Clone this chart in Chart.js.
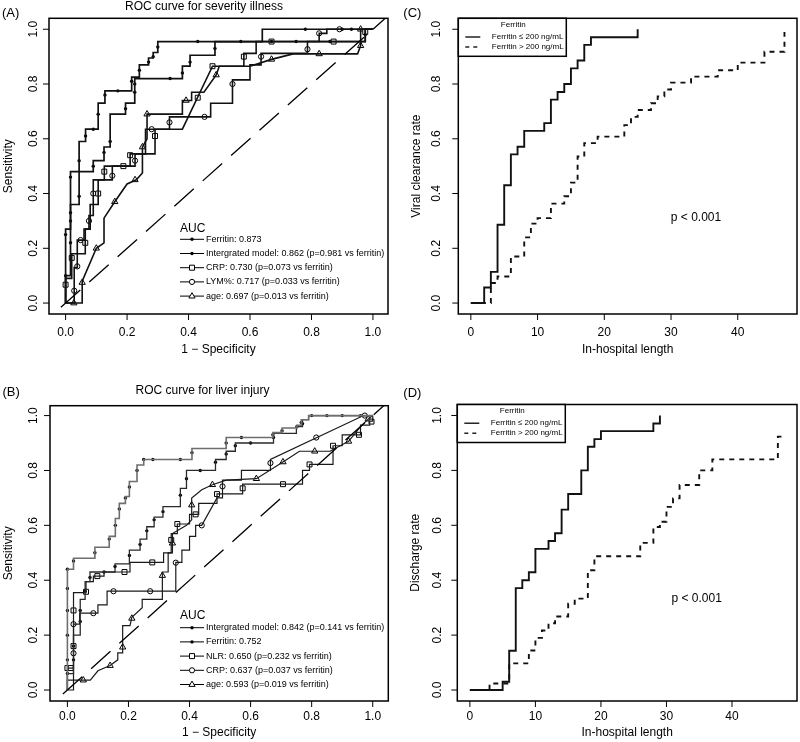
<!DOCTYPE html>
<html>
<head>
<meta charset="utf-8">
<script src="https://cdn.jsdelivr.net/npm/chart.js@4.4.1/dist/chart.umd.min.js"></script>
<style>
  body { margin: 0; background: #fff; width: 800px; height: 742px; position: relative; overflow: hidden; }
  canvas { position: absolute; }
</style>
</head>
<body>
<canvas id="pA" width="400" height="371" style="left:0;top:0;width:400px;height:371px"></canvas>
<canvas id="pC" width="400" height="371" style="left:400px;top:0;width:400px;height:371px"></canvas>
<canvas id="pB" width="400" height="371" style="left:0;top:371px;width:400px;height:371px"></canvas>
<canvas id="pD" width="400" height="371" style="left:400px;top:371px;width:400px;height:371px"></canvas>
<script>
// ---- ticks ----
const rocTicks = [0, 0.2, 0.4, 0.6, 0.8, 1.0];
const rateTicks = [0, 0.2, 0.4, 0.6, 0.8, 1.0];
const dayTicks = [0, 10, 20, 30, 40];
const diagLine = [[-0.2, -0.2], [1.2, 1.2]];

// ---- (A) ROC curve for severity illness: [1 - specificity, sensitivity] ----
const aFerritin = [[0,0],[0,0.27],[0.016,0.27],[0.016,0.36],[0.044,0.36],[0.044,0.59],[0.065,0.59],[0.065,0.635],[0.106,0.635],[0.106,0.73],[0.128,0.73],[0.128,0.775],[0.215,0.775],[0.215,0.825],[0.24,0.825],[0.24,0.87],[0.27,0.87],[0.27,0.895],[0.285,0.895],[0.285,0.915],[0.3,0.915],[0.3,0.955],[0.64,0.955],[0.64,1],[1,1]];
const aFerritinMarks = [[0,0.1],[0,0.25],[0.016,0.3],[0.044,0.39],[0.044,0.52],[0.065,0.61],[0.09,0.635],[0.106,0.69],[0.128,0.76],[0.17,0.775],[0.215,0.81],[0.24,0.85],[0.27,0.88],[0.285,0.9],[0.3,0.935],[0.43,0.955],[0.57,0.955],[0.78,1],[0.9,1],[0.93,1]];
const aIntegrated = [[0,0],[0,0.1],[0.016,0.1],[0.016,0.48],[0.09,0.48],[0.09,0.52],[0.125,0.52],[0.125,0.57],[0.145,0.57],[0.145,0.69],[0.195,0.69],[0.195,0.73],[0.225,0.73],[0.225,0.82],[0.38,0.82],[0.38,0.865],[0.405,0.865],[0.405,0.905],[0.486,0.905],[0.486,0.955],[0.975,0.955],[0.975,1],[1,1]];
const aIntegratedMarks = [[0.016,0.22],[0.016,0.33],[0.016,0.46],[0.09,0.5],[0.125,0.55],[0.145,0.59],[0.195,0.71],[0.225,0.77],[0.225,0.8],[0.34,0.82],[0.38,0.84],[0.405,0.88],[0.486,0.93],[0.67,0.955],[0.75,0.955],[0.86,0.955],[0.975,0.98]];
const aCRP = [[0,0],[0,0.09],[0.02,0.09],[0.02,0.18],[0.064,0.18],[0.064,0.27],[0.08,0.27],[0.08,0.36],[0.106,0.36],[0.106,0.45],[0.126,0.45],[0.126,0.5],[0.21,0.5],[0.21,0.545],[0.291,0.545],[0.291,0.635],[0.38,0.635],[0.478,0.865],[0.58,0.865],[0.58,0.912],[0.62,0.912],[0.62,0.955],[0.975,0.955],[0.975,1],[1,1]];
const aCRPMarks = [[0,0.067],[0.02,0.165],[0.064,0.22],[0.106,0.4],[0.126,0.48],[0.188,0.5],[0.21,0.54],[0.291,0.61],[0.43,0.75],[0.478,0.865],[0.58,0.9],[0.67,0.955],[0.872,0.955],[0.975,0.99]];
const aLYM = [[0,0],[0.028,0],[0.028,0.13],[0.038,0.13],[0.038,0.23],[0.06,0.23],[0.06,0.27],[0.076,0.27],[0.076,0.32],[0.09,0.32],[0.09,0.45],[0.152,0.45],[0.152,0.5],[0.226,0.5],[0.226,0.545],[0.26,0.545],[0.26,0.635],[0.338,0.635],[0.338,0.68],[0.472,0.68],[0.472,0.73],[0.543,0.73],[0.543,0.815],[0.6,0.815],[0.6,0.87],[0.636,0.87],[0.636,0.912],[0.787,0.912],[0.787,0.955],[0.825,0.955],[0.825,0.985],[0.85,0.985],[0.85,1],[1,1]];
const aLYMMarks = [[0.028,0.045],[0.038,0.134],[0.049,0.23],[0.076,0.3],[0.09,0.4],[0.152,0.465],[0.226,0.52],[0.28,0.635],[0.338,0.66],[0.452,0.68],[0.543,0.8],[0.636,0.9],[0.787,0.927],[0.825,0.985],[0.891,1]];
const aAge = [[0,0],[0.054,0],[0.054,0.08],[0.1,0.2],[0.125,0.22],[0.125,0.31],[0.16,0.37],[0.2,0.435],[0.23,0.45],[0.25,0.475],[0.25,0.57],[0.265,0.6],[0.265,0.69],[0.38,0.69],[0.38,0.74],[0.41,0.74],[0.41,0.77],[0.45,0.77],[0.49,0.833],[0.5,0.865],[0.6,0.865],[0.67,0.89],[0.74,0.91],[0.95,0.91],[0.96,0.94],[0.96,1],[1,1]];
const aAgeMarks = [[0.027,0],[0.054,0.075],[0.1,0.2],[0.16,0.37],[0.226,0.45],[0.25,0.57],[0.265,0.69],[0.392,0.74],[0.49,0.833],[0.67,0.89],[0.825,0.91],[0.96,0.94],[0.96,1]];
const aLegend = ['Ferritin: 0.873', 'Intergrated model: 0.862 (p=0.981 vs ferritin)', 'CRP: 0.730 (p=0.073 vs ferritin)', 'LYM%: 0.717 (p=0.033 vs ferritin)', 'age: 0.697 (p=0.013 vs ferritin)'];

// ---- (B) ROC curve for liver injury ----
const bIntegrated = [[0,0],[0,0.44],[0.02,0.44],[0.02,0.48],[0.09,0.48],[0.09,0.52],[0.137,0.52],[0.137,0.56],[0.157,0.56],[0.157,0.625],[0.17,0.625],[0.17,0.68],[0.19,0.68],[0.19,0.705],[0.203,0.705],[0.203,0.76],[0.228,0.76],[0.228,0.82],[0.25,0.82],[0.25,0.84],[0.408,0.84],[0.408,0.88],[0.52,0.88],[0.52,0.92],[0.673,0.92],[0.673,0.938],[0.703,0.938],[0.703,0.955],[0.752,0.955],[0.752,0.965],[0.766,0.965],[0.766,0.985],[0.79,0.985],[0.79,1],[1,1]];
const bIntegratedMarks = [[0,0.06],[0,0.11],[0,0.2],[0,0.29],[0,0.37],[0,0.44],[0.02,0.47],[0.09,0.5],[0.137,0.55],[0.157,0.6],[0.17,0.66],[0.19,0.7],[0.203,0.74],[0.228,0.8],[0.25,0.84],[0.28,0.84],[0.37,0.84],[0.408,0.865],[0.52,0.9],[0.57,0.92],[0.673,0.93],[0.703,0.945],[0.752,0.96],[0.766,0.975],[0.8,1],[0.85,1],[0.9,1],[0.96,1]];
const bFerritin = [[0,0],[0,0.06],[0.02,0.06],[0.02,0.2],[0.042,0.2],[0.042,0.33],[0.058,0.33],[0.058,0.395],[0.074,0.395],[0.074,0.43],[0.156,0.43],[0.156,0.46],[0.203,0.46],[0.203,0.51],[0.238,0.51],[0.238,0.55],[0.26,0.55],[0.26,0.595],[0.284,0.595],[0.284,0.63],[0.313,0.63],[0.313,0.668],[0.37,0.668],[0.37,0.735],[0.39,0.735],[0.39,0.8],[0.485,0.8],[0.485,0.84],[0.52,0.84],[0.52,0.87],[0.55,0.87],[0.55,0.9],[0.675,0.9],[0.675,0.935],[0.75,0.935],[0.75,0.96],[0.77,0.96],[0.77,0.985],[0.79,0.985],[0.79,1],[1,1]];
const bFerritinMarks = [[0.02,0.11],[0.02,0.16],[0.042,0.25],[0.042,0.29],[0.058,0.36],[0.074,0.41],[0.12,0.43],[0.156,0.45],[0.203,0.49],[0.238,0.53],[0.26,0.58],[0.284,0.62],[0.313,0.65],[0.37,0.71],[0.39,0.77],[0.435,0.8],[0.485,0.83],[0.52,0.86],[0.55,0.89],[0.6,0.9],[0.675,0.92],[0.77,0.97]];
const bNLR = [[0,0],[0,0.08],[0.02,0.08],[0.02,0.355],[0.061,0.355],[0.061,0.395],[0.085,0.395],[0.085,0.415],[0.12,0.415],[0.12,0.43],[0.205,0.43],[0.205,0.465],[0.315,0.465],[0.315,0.5],[0.34,0.5],[0.34,0.57],[0.36,0.57],[0.36,0.605],[0.4,0.605],[0.4,0.64],[0.43,0.64],[0.43,0.68],[0.49,0.68],[0.49,0.715],[0.574,0.715],[0.574,0.75],[0.77,0.75],[0.77,0.8],[0.793,0.8],[0.793,0.822],[0.87,0.822],[0.87,0.89],[0.9,0.89],[0.9,0.93],[0.96,0.93],[0.96,0.965],[0.99,0.965],[0.99,0.98],[1,0.98],[1,1]];
const bNLRMarks = [[0,0.08],[0.011,0.08],[0.02,0.16],[0.02,0.29],[0.061,0.358],[0.098,0.415],[0.187,0.43],[0.278,0.465],[0.34,0.547],[0.36,0.605],[0.42,0.64],[0.49,0.714],[0.574,0.735],[0.706,0.75],[0.793,0.822],[0.87,0.89],[0.955,0.93],[0.996,0.978]];
const bCRP = [[0,0],[0.02,0],[0.02,0.24],[0.04,0.24],[0.04,0.28],[0.1,0.28],[0.1,0.31],[0.13,0.31],[0.13,0.36],[0.355,0.36],[0.355,0.465],[0.375,0.465],[0.375,0.51],[0.4,0.51],[0.4,0.56],[0.42,0.56],[0.42,0.6],[0.44,0.6],[0.49,0.7],[0.508,0.7],[0.508,0.765],[0.57,0.765],[0.57,0.8],[0.665,0.8],[0.665,0.84],[0.97,1],[1,1]];
const bCRPMarks = [[0.02,0.134],[0.02,0.24],[0.085,0.28],[0.151,0.36],[0.271,0.36],[0.355,0.464],[0.44,0.6],[0.508,0.742],[0.665,0.827],[0.815,0.92],[0.974,1]];
const bAge = [[0,0],[0,0.036],[0.075,0.036],[0.1,0.07],[0.14,0.089],[0.165,0.11],[0.165,0.135],[0.181,0.135],[0.181,0.235],[0.205,0.235],[0.211,0.265],[0.245,0.3],[0.245,0.33],[0.311,0.33],[0.311,0.43],[0.33,0.43],[0.33,0.5],[0.344,0.5],[0.344,0.57],[0.39,0.6],[0.407,0.62],[0.407,0.7],[0.44,0.73],[0.475,0.748],[0.52,0.765],[0.619,0.77],[0.706,0.831],[0.76,0.87],[0.86,0.87],[0.921,0.906],[0.96,0.96],[0.985,0.987],[1,1]];
const bAgeMarks = [[0.052,0.036],[0.14,0.089],[0.181,0.156],[0.211,0.261],[0.311,0.417],[0.344,0.535],[0.407,0.674],[0.475,0.748],[0.619,0.77],[0.706,0.831],[0.81,0.87],[0.921,0.906],[0.985,0.987]];
const bLegend = ['Intergrated model: 0.842 (p=0.141 vs ferritin)', 'Ferritin: 0.752', 'NLR: 0.650 (p=0.232 vs ferritin)', 'CRP: 0.637 (p=0.037 vs ferritin)', 'age: 0.593 (p=0.019 vs ferritin)'];

// ---- (C) viral clearance by ferritin group ----
const groupNames = ['Ferritin \u2264 200 ng/mL', 'Ferritin > 200 ng/mL'];
const cLowDays = [0, 2, 3, 4, 5, 6, 7, 8, 11, 12, 13, 14, 15, 16, 17, 18, 25];
const cLowRate = [0, 0.057, 0.114, 0.286, 0.43, 0.543, 0.571, 0.629, 0.657, 0.743, 0.771, 0.8, 0.857, 0.886, 0.943, 0.971, 1.0];
const cHighDays = [0, 3, 4, 6, 8, 9, 10, 12, 14, 15, 16, 17, 19, 23, 24, 25, 27, 28, 29, 30, 33, 37, 40, 44, 47];
const cHighRate = [0, 0.073, 0.097, 0.17, 0.24, 0.29, 0.31, 0.363, 0.39, 0.44, 0.535, 0.584, 0.608, 0.65, 0.68, 0.705, 0.73, 0.755, 0.78, 0.805, 0.827, 0.85, 0.878, 0.918, 0.99];

// ---- (D) discharge by ferritin group ----
const dLowDays = [0, 5, 6, 7, 8, 9, 10, 12, 13, 14, 15, 17, 18, 19, 20, 28, 29];
const dLowRate = [0, 0.03, 0.143, 0.371, 0.4, 0.429, 0.514, 0.543, 0.571, 0.657, 0.714, 0.8, 0.886, 0.914, 0.943, 0.971, 1.0];
const dHighDays = [0, 3, 6, 6, 9, 10, 11, 12, 13, 15, 16, 18, 19, 26, 28, 29, 30, 31, 32, 35, 37, 47, 48];
const dHighRate = [0, 0.024, 0.049, 0.097, 0.144, 0.19, 0.217, 0.243, 0.268, 0.314, 0.333, 0.436, 0.487, 0.536, 0.594, 0.613, 0.667, 0.698, 0.747, 0.8, 0.84, 0.923, 0.923];

// ---- helpers ----
const FONT = '"Liberation Sans", Arial, Helvetica, sans-serif';
const font = s => s + 'px ' + FONT;
const pts = arr => arr.map(([x, y]) => ({ x, y }));
const zip = (xs, ys) => xs.map((x, i) => ({ x, y: ys[i] }));

const MARK = {
  dot: { pointStyle: 'circle', pointRadius: 1.7, pointBackgroundColor: '#000', pointBorderColor: '#000', pointBorderWidth: 0 },
  rect: { pointStyle: 'rect', pointRadius: 3.5, pointBackgroundColor: '#fff', pointBorderColor: '#000', pointBorderWidth: 1 },
  circle: { pointStyle: 'circle', pointRadius: 2.6, pointBackgroundColor: '#fff', pointBorderColor: '#000', pointBorderWidth: 1 },
  triangle: { pointStyle: 'triangle', pointRadius: 3.6, pointBackgroundColor: '#fff', pointBorderColor: '#000', pointBorderWidth: 1 }
};

function drawMark(ctx, style, x, y) {
  ctx.beginPath();
  ctx.lineWidth = 1;
  ctx.strokeStyle = '#000';
  if (style === 'dot') {
    ctx.arc(x, y, 1.7, 0, Math.PI * 2);
    ctx.fillStyle = '#000';
    ctx.fill();
    return;
  }
  if (style === 'rect') ctx.rect(x - 2.5, y - 2.5, 5, 5);
  else if (style === 'circle') ctx.arc(x, y, 2.6, 0, Math.PI * 2);
  else { ctx.moveTo(x, y - 3.4); ctx.lineTo(x + 3.1, y + 1.9); ctx.lineTo(x - 3.1, y + 1.9); ctx.closePath(); }
  ctx.fillStyle = '#fff';
  ctx.fill();
  ctx.stroke();
}

function rocSets(curves) {
  const sets = [{
    data: pts(diagLine), borderColor: '#000', borderWidth: 1.3, borderDash: [26, 12],
    pointRadius: 0, showLine: true
  }];
  curves.forEach(c => {
    sets.push({ data: pts(c.line), borderColor: c.color, borderWidth: c.width, pointRadius: 0, showLine: true });
  });
  curves.forEach(c => {
    sets.push(Object.assign({ data: pts(c.marks), showLine: false }, MARK[c.mark]));
  });
  return sets;
}

function kmSets(low, high) {
  return [
    { data: low, borderColor: '#111', borderWidth: 1.9, stepped: true, pointRadius: 0, showLine: true },
    { data: high, borderColor: '#111', borderWidth: 1.9, stepped: true, borderDash: [5, 5], pointRadius: 0, showLine: true }
  ];
}

// R style frame: box, outward ticks, rotated y labels, titles
function framePlugin(p) {
  return {
    id: 'rFrame',
    afterDraw(chart) {
      const { ctx, chartArea: a, scales: { x, y } } = chart;
      ctx.save();
      ctx.strokeStyle = '#000';
      ctx.fillStyle = '#000';
      ctx.lineWidth = 1.5;
      ctx.strokeRect(a.left, a.top, a.right - a.left, a.bottom - a.top);

      ctx.lineWidth = 1;
      ctx.font = font(12);
      ctx.textAlign = 'center';
      ctx.textBaseline = 'middle';
      p.xTicks.forEach(v => {
        const px = x.getPixelForValue(v);
        ctx.beginPath(); ctx.moveTo(px, a.bottom); ctx.lineTo(px, a.bottom + 6); ctx.stroke();
        ctx.fillText(p.xFmt(v), px, a.bottom + p.xLabelGap);
      });
      p.yTicks.forEach(v => {
        const py = y.getPixelForValue(v);
        ctx.beginPath(); ctx.moveTo(a.left - 6, py); ctx.lineTo(a.left, py); ctx.stroke();
        ctx.save();
        ctx.translate(a.left - p.yLabelGap, py);
        ctx.rotate(-Math.PI / 2);
        ctx.fillText(v.toFixed(1), 0, 0);
        ctx.restore();
      });

      // axis titles
      ctx.fillText(p.xTitle, (a.left + a.right) / 2, a.bottom + p.xTitleGap);
      ctx.save();
      ctx.translate(p.yTitleX, (a.top + a.bottom) / 2);
      ctx.rotate(-Math.PI / 2);
      ctx.fillText(p.yTitle, 0, 0);
      ctx.restore();

      // panel tag and title
      ctx.font = font(13);
      ctx.textAlign = 'left';
      ctx.fillText(p.tag, p.tagX, p.tagY);
      if (p.title) {
        ctx.font = font(12);
        ctx.textAlign = 'center';
        ctx.fillText(p.title, p.titleX, p.titleY);
      }

      if (p.legend) p.legend(ctx, a);
      ctx.restore();
    }
  };
}

function rocLegend(labels, marks, x0, yAUC, yRow0) {
  return (ctx) => {
    ctx.textAlign = 'left';
    ctx.textBaseline = 'middle';
    ctx.font = font(12);
    ctx.fillStyle = '#000';
    ctx.fillText('AUC', x0, yAUC);
    ctx.font = font(9);
    labels.forEach((t, i) => {
      const yy = yRow0 + i * 14.2;
      ctx.strokeStyle = '#000';
      ctx.lineWidth = 1;
      ctx.beginPath(); ctx.moveTo(x0, yy); ctx.lineTo(x0 + 24, yy); ctx.stroke();
      drawMark(ctx, marks[i], x0 + 12, yy);
      ctx.fillStyle = '#000';
      ctx.fillText(t, x0 + 26, yy);
    });
  };
}

function groupLegend(pText) {
  return (ctx, a) => {
    ctx.fillStyle = '#fff';
    ctx.fillRect(a.left, a.top, 108, 38);
    ctx.strokeStyle = '#000';
    ctx.lineWidth = 1.5;
    ctx.strokeRect(a.left, a.top, 108, 38);
    ctx.fillStyle = '#000';
    ctx.textBaseline = 'middle';
    ctx.font = font(8);
    ctx.textAlign = 'center';
    ctx.fillText('Ferritin', a.left + 55, a.top + 6.5);
    ctx.textAlign = 'left';
    groupNames.forEach((t, i) => {
      const yy = a.top + 18.7 + i * 10;
      ctx.lineWidth = 1.3;
      ctx.setLineDash(i === 0 ? [] : [4, 4]);
      ctx.beginPath(); ctx.moveTo(a.left + 7, yy); ctx.lineTo(a.left + 22, yy); ctx.stroke();
      ctx.setLineDash([]);
      ctx.fillText(t, a.left + 33.5, yy);
    });
    ctx.font = font(12);
    ctx.textAlign = 'center';
    ctx.fillText('p < 0.001', pText[0], pText[1]);
  };
}

function makeChart(id, datasets, range, pad, frame) {
  return new Chart(document.getElementById(id), {
    type: 'line',
    data: { datasets },
    options: {
      responsive: false,
      animation: false,
      devicePixelRatio: 1,
      layout: { padding: pad },
      plugins: { legend: { display: false }, tooltip: { enabled: false } },
      scales: {
        x: { type: 'linear', min: range[0], max: range[1], display: false },
        y: { type: 'linear', min: range[2], max: range[3], display: false }
      }
    },
    plugins: [framePlugin(frame)]
  });
}

const markOrder = ['dot', 'dot', 'rect', 'circle', 'triangle'];
const fmt1 = v => v.toFixed(1);
const fmt0 = v => String(v);

makeChart('pA',
  rocSets([
    { line: aFerritin, marks: aFerritinMarks, mark: 'dot', color: '#111', width: 1.7 },
    { line: aIntegrated, marks: aIntegratedMarks, mark: 'dot', color: '#111', width: 1.7 },
    { line: aCRP, marks: aCRPMarks, mark: 'rect', color: '#111', width: 1.6 },
    { line: aLYM, marks: aLYMMarks, mark: 'circle', color: '#111', width: 1.6 },
    { line: aAge, marks: aAgeMarks, mark: 'triangle', color: '#111', width: 1.6 }
  ]),
  [-0.054, 1.049, -0.04, 1.04],
  { left: 49, top: 18.3, right: 12, bottom: 57 },
  { xTicks: rocTicks, yTicks: rocTicks, xFmt: fmt1, xLabelGap: 19, xTitleGap: 36, yLabelGap: 15.7, yTitleX: 8.5,
    xTitle: '1 \u2212 Specificity', yTitle: 'Sensitivity', tag: '(A)', tagX: 2, tagY: 13,
    title: 'ROC curve for severity illness', titleX: 204, titleY: 7,
    legend: rocLegend(aLegend, markOrder, 180, 229, 239.3) });

makeChart('pB',
  rocSets([
    { line: bIntegrated, marks: bIntegratedMarks, mark: 'dot', color: '#6e6e6e', width: 1.6 },
    { line: bFerritin, marks: bFerritinMarks, mark: 'dot', color: '#2a2a2a', width: 1.3 },
    { line: bNLR, marks: bNLRMarks, mark: 'rect', color: '#1a1a1a', width: 1.2 },
    { line: bCRP, marks: bCRPMarks, mark: 'circle', color: '#1a1a1a', width: 1.2 },
    { line: bAge, marks: bAgeMarks, mark: 'triangle', color: '#1a1a1a', width: 1.2 }
  ]),
  [-0.057, 1.051, -0.04, 1.036],
  { left: 50, top: 34.7, right: 11.7, bottom: 41 },
  { xTicks: rocTicks, yTicks: rocTicks, xFmt: fmt1, xLabelGap: 15.7, xTitleGap: 31.7, yLabelGap: 16, yTitleX: 8.5,
    xTitle: '1 \u2212 Specificity', yTitle: 'Sensitivity', tag: '(B)', tagX: 2.5, tagY: 21,
    title: 'ROC curve for liver injury', titleX: 202.5, titleY: 20,
    legend: rocLegend(bLegend, markOrder, 180, 245, 256.7) });

makeChart('pC',
  kmSets(zip(cLowDays, cLowRate), zip(cHighDays, cHighRate)),
  [-1.88, 48.88, -0.04, 1.04],
  { left: 58.3, top: 18.3, right: 3, bottom: 57 },
  { xTicks: dayTicks, yTicks: rateTicks, xFmt: fmt0, xLabelGap: 19, xTitleGap: 36, yLabelGap: 22, yTitleX: 16.7,
    xTitle: 'In-hospital length', yTitle: 'Viral clearance rate', tag: '(C)', tagX: 3.3, tagY: 13.3,
    legend: groupLegend([296, 218]) });

makeChart('pD',
  kmSets(zip(dLowDays, dLowRate), zip(dHighDays, dHighRate)),
  [-1.92, 49.92, -0.04, 1.04],
  { left: 57.3, top: 33.5, right: 3, bottom: 41 },
  { xTicks: dayTicks, yTicks: rateTicks, xFmt: fmt0, xLabelGap: 15.7, xTitleGap: 31.7, yLabelGap: 20, yTitleX: 16,
    xTitle: 'In-hospital length', yTitle: 'Discharge rate', tag: '(D)', tagX: 3.3, tagY: 22,
    legend: groupLegend([296.7, 228]) });
</script>
</body>
</html>
